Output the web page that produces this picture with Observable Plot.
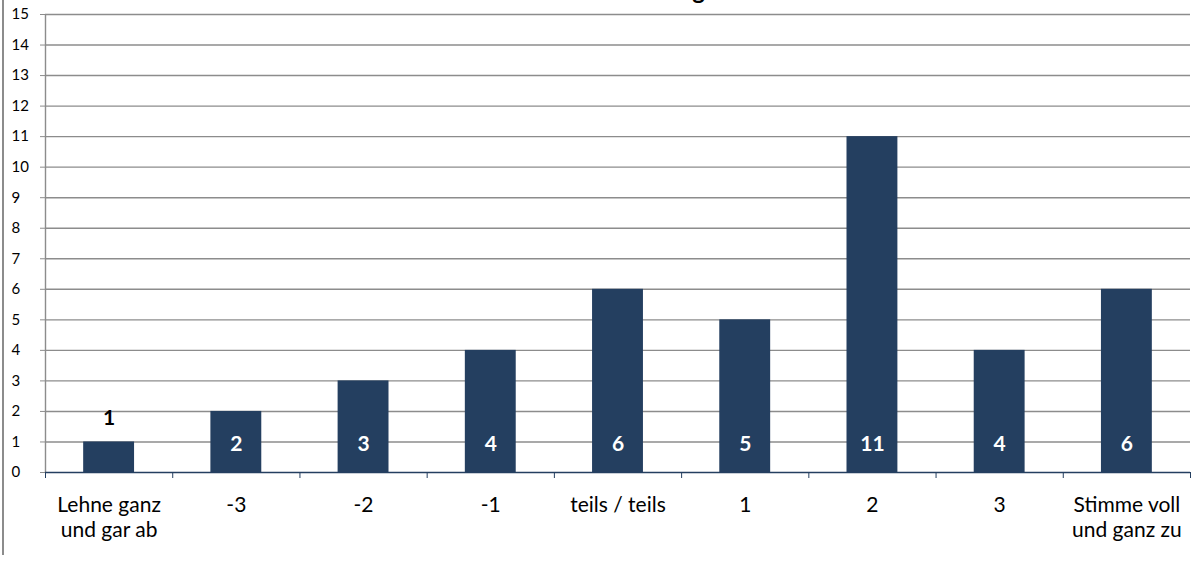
<!DOCTYPE html>
<html>
<head>
<meta charset="utf-8">
<script src="https://cdn.jsdelivr.net/npm/d3@7"></script>
<script src="https://cdn.jsdelivr.net/npm/@observablehq/plot@0.6"></script>
<style>
  html, body { margin: 0; padding: 0; background: #fff; overflow: hidden; }
  #wrap { position: relative; width: 1200px; height: 561px; overflow: hidden; }
  #frame { position: absolute; left: 2px; top: 0; width: 0; height: 555px; border-left: 2px solid #8c8c8c; }
  #title { position: absolute; right: 495px; top: -25px; font: bold 24px Lato, sans-serif; color: #000; white-space: nowrap; }
  #chart { position: absolute; left: 0; top: 0; }
</style>
</head>
<body>
<div id="wrap">
  <div id="chart"></div>
  <div id="frame"></div>
  <div id="title">Gesamtbewertung</div>
</div>
<script>
// Answer scale from full rejection to full agreement
const categories = ["Lehne ganz\nund gar ab", "-3", "-2", "-1", "teils / teils", "1", "2", "3", "Stimme voll\nund ganz zu"];
// Number of answers per scale step
const counts = [1, 2, 3, 4, 6, 5, 11, 4, 6];
// Value axis ticks
const yTicks = [0, 1, 2, 3, 4, 5, 6, 7, 8, 9, 10, 11, 12, 13, 14, 15];

const data = categories.map((label, i) => ({i, label, count: counts[i]}));
const barFill = "#243f60";
const gridColor = "#8c8c8c";

const chart = Plot.plot({
  width: 1200,
  height: 561,
  marginLeft: 45,
  marginRight: 10,
  marginTop: 14,
  marginBottom: 89,
  style: {fontFamily: "Lato, sans-serif", fontSize: "15px", color: "#000", background: "transparent"},
  x: {type: "linear", domain: [0, categories.length], ticks: d3.range(0, categories.length + 1), tickSize: 6, tickFormat: () => "", label: null},
  y: {domain: [0, 15], ticks: yTicks, tickSize: 5, tickFormat: () => "", label: null},
  marks: [
    Plot.ruleY(yTicks.filter(d => d > 0), {stroke: gridColor, strokeWidth: 1.4}),
    Plot.ruleX([0], {stroke: gridColor, strokeWidth: 1.4}),
    Plot.rectY(data, {x1: d => d.i + 0.3, x2: d => d.i + 0.7, y: "count", fill: barFill}),
    Plot.ruleY([0], {stroke: barFill, strokeWidth: 1.4}),
    // value labels: inside the bar near its base, above the bar when it is too short
    Plot.text(data.filter(d => d.count > 1), {x: d => d.i + 0.5, y: 0, dy: -28, text: d => String(d.count), fill: "#fff", fontWeight: "bold", fontSize: 21}),
    Plot.text(data.filter(d => d.count <= 1), {x: d => d.i + 0.5, y: "count", dy: -24, text: d => String(d.count), fill: "#000", fontWeight: "bold", fontSize: 21}),
    // category labels
    Plot.text(data, {x: d => d.i + 0.5, y: 0, dy: 22, text: "label", lineAnchor: "top", lineHeight: 1.17, fontSize: 21, fill: "#000"}),
    // value axis labels
    Plot.text(yTicks, {x: 0, y: d => d, dx: -34, text: d => String(d), textAnchor: "start", fontSize: 15, fill: "#000"})
  ]
});

chart.querySelectorAll('[aria-label^="y-axis"]').forEach(g => g.setAttribute("color", gridColor));
chart.querySelectorAll('[aria-label^="x-axis"]').forEach(g => g.setAttribute("color", barFill));
document.getElementById("chart").appendChild(chart);
</script>
</body>
</html>
